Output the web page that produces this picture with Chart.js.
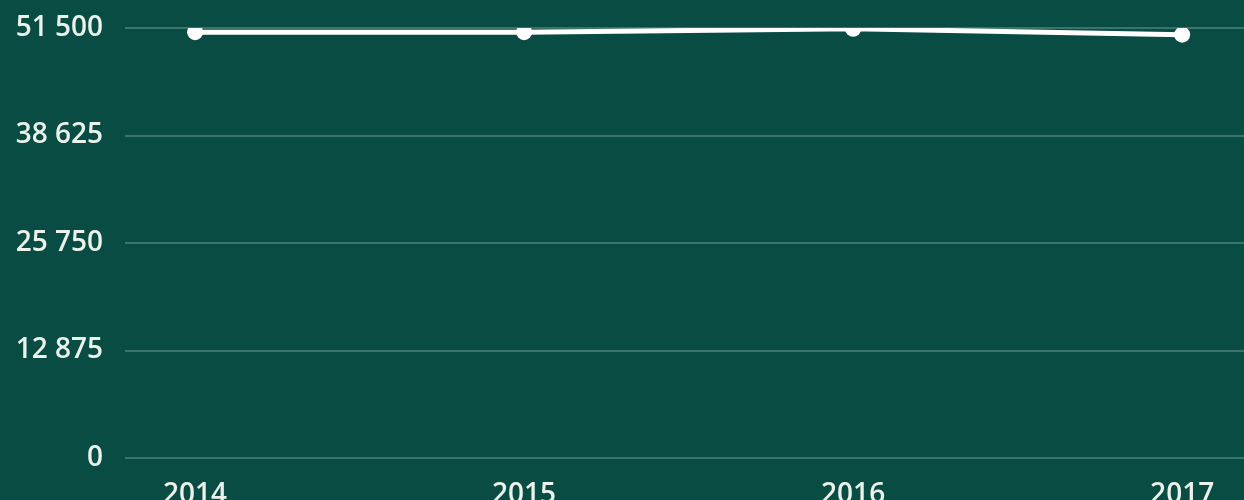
<!DOCTYPE html>
<html>
<head>
<meta charset="utf-8">
<script src="https://cdn.jsdelivr.net/npm/chart.js@4"></script>
<style>
    html, body { margin: 0; padding: 0; background: #084c43; }
    #wrap { width: 1244px; height: 500px; }
</style>
</head>
<body>
<div id="wrap"><canvas id="chart"></canvas></div>
<script>
// dữ liệu
const years = [2014, 2015, 2016, 2017];
const values = [51000, 51000, 51400, 50700];
const yTicks = [0, 12875, 25750, 38625, 51500];

const textColor = "#eaf2ea";

function fmt(v) {
    return String(v).replace(/\B(?=(\d{3})+(?!\d))/g, " ");
}

const ctx = document.getElementById("chart");
new Chart(ctx, {
    type: "line",
    data: {
        datasets: [{
            data: years.map((y, i) => ({ x: y, y: values[i] })),
            borderColor: "#ffffff",
            backgroundColor: "#ffffff",
            borderWidth: 5,
            pointRadius: 8,
            pointBorderWidth: 0,
            tension: 0,
        }],
    },
    options: {
        responsive: true,
        maintainAspectRatio: false,
        animation: false,
        layout: { autoPadding: false, padding: { top: 28, right: 0, left: 0, bottom: 0 } },
        plugins: {
            legend: { display: false },
            tooltip: { enabled: false },
        },
        scales: {
            x: {
                type: "linear",
                min: 2013.787,
                max: 2017.188,
                grid: { display: false },
                border: { display: false },
                ticks: {
                    stepSize: 1,
                    includeBounds: false,
                    padding: 12,
                    color: textColor,
                    font: { family: "Open Sans", size: 28, weight: 600 },
                    callback: (v) => String(v),
                },
                afterFit: (s) => {
                    s.height = 42;
                    s.paddingLeft = 0;
                    s.paddingRight = 0;
                },
            },
            y: {
                min: 0,
                max: 51500,
                grid: { color: "rgba(255,255,255,0.22)", lineWidth: 2, drawTicks: false },
                border: { display: false },
                afterBuildTicks: (s) => { s.ticks = yTicks.map((v) => ({ value: v })); },
                ticks: {
                    padding: 22,
                    color: textColor,
                    font: { family: "Open Sans", size: 28, weight: 600 },
                    callback: (v) => fmt(v),
                },
                afterFit: (s) => {
                    s.width = 125;
                    s.paddingTop = 0;
                    s.paddingBottom = 0;
                },
            },
        },
    },
});
</script>
</body>
</html>
